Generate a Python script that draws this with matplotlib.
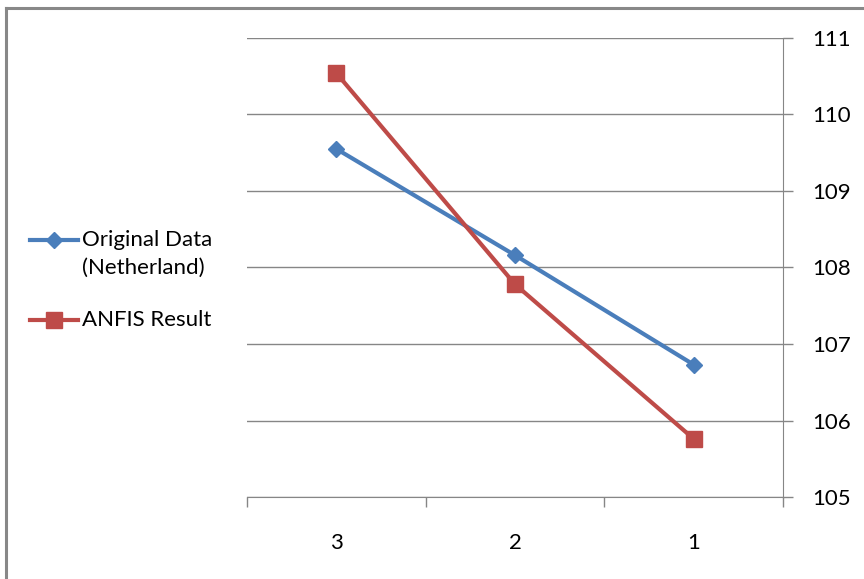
import numpy as np
import matplotlib.pyplot as plt
from matplotlib.lines import Line2D

# datos
categorias = ['3', '2', '1']
original = [109.55, 108.16, 106.73]
anfis = [110.54, 107.78, 105.76]

plt.rcParams['font.family'] = ['Lato', 'DejaVu Sans']

fig = plt.figure(figsize=(8.64, 5.79), dpi=100)
ax = fig.add_axes([0.2859, 0.1416, 0.6204, 0.7928])

x = np.arange(len(categorias))
ax.plot(x, original, color='#4A7EBB', lw=3, marker='D', ms=8, zorder=3)
ax.plot(x, anfis, color='#BE4B48', lw=3, marker='s', ms=11, zorder=3)

ax.set_xlim(-0.5, 2.5)
ax.set_ylim(105, 111)
ax.set_yticks(range(105, 112))
ax.yaxis.tick_right()
ax.set_xticks(x)
ax.set_xticklabels(categorias)
ax.set_xticks([-0.5, 0.5, 1.5, 2.5], minor=True)
ax.tick_params(axis='x', which='major', length=0, pad=26, labelsize=16)
ax.tick_params(axis='x', which='minor', length=7, color='#868686', width=1)
ax.tick_params(axis='y', length=7, color='#868686', width=1, pad=14, labelsize=16)
ax.grid(axis='y', color='#868686', lw=1)
ax.set_axisbelow(True)
for s in ['top', 'left']:
    ax.spines[s].set_visible(False)
ax.spines['right'].set_color('#868686')
ax.spines['bottom'].set_color('#868686')

# leyenda a mano (a la izquierda como en excel)
W, H = 864, 579
def leyenda(y, color, marker, ms, texto):
    yy = 1 - y / H
    fig.add_artist(Line2D([30 / W, 78 / W], [yy, yy], color=color, lw=3,
                          transform=fig.transFigure))
    fig.add_artist(Line2D([54 / W], [yy], color=color, marker=marker, ms=ms,
                          lw=0, transform=fig.transFigure))
    fig.text(82 / W, yy, texto, fontsize=16, va='center', ha='left')

leyenda(240, '#4A7EBB', 'D', 8, 'Original Data')
fig.text(82 / W, 1 - 268 / H, '(Netherland)', fontsize=16, va='center', ha='left')
leyenda(320, '#BE4B48', 's', 11, 'ANFIS Result')

# borde del grafico
fig.add_artist(Line2D([0.0065, 1], [0.987, 0.987], color='#888888', lw=2.2,
                      transform=fig.transFigure))
fig.add_artist(Line2D([0.0065, 0.0065], [0, 0.987], color='#888888', lw=2.2,
                      transform=fig.transFigure))

fig.savefig('out.png', dpi=100)
